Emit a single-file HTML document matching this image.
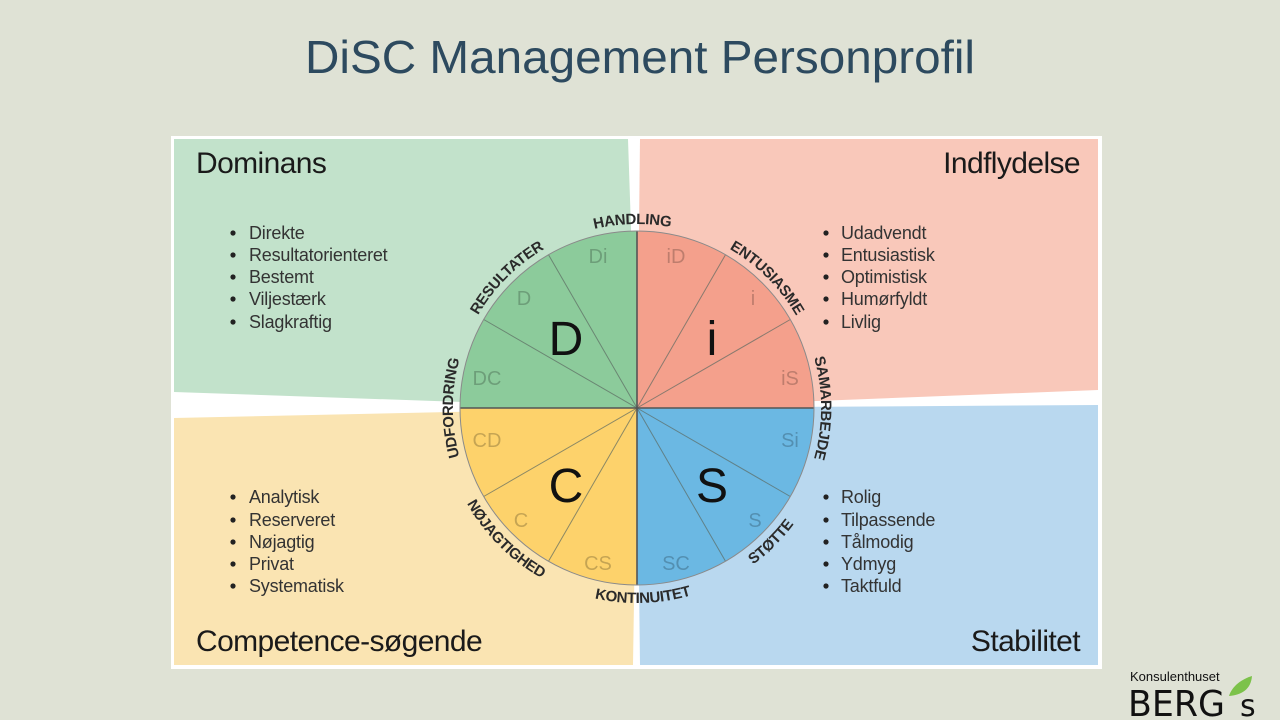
<!DOCTYPE html>
<html><head><meta charset="utf-8"><style>
html,body{margin:0;padding:0;background:#dfe2d5;width:1280px;height:720px;overflow:hidden;font-family:"Liberation Sans",sans-serif}
</style></head><body>
<svg width="1280" height="720" viewBox="0 0 1280 720" xmlns="http://www.w3.org/2000/svg" style="position:absolute;left:0;top:0">
<defs>
<path id="cw" d="M637,592 A184,184 0 1 1 637,224 A184,184 0 1 1 637,592"/>
<path id="ccw" d="M637,213 A195,195 0 1 0 637,603 A195,195 0 1 0 637,213"/>
</defs>
<text x="640" y="73" text-anchor="middle" font-size="46" fill="#2d4a5f" textLength="670" lengthAdjust="spacingAndGlyphs">DiSC Management Personprofil</text>
<rect x="171" y="136" width="931" height="533" fill="#ffffff"/>
<polygon points="174,139 628,139 637,408 174,392" fill="#c2e2cb"/>
<polygon points="640,139 1098,139 1098,390 637,408" fill="#f9c8ba"/>
<polygon points="174,418 637,408 633,665 174,665" fill="#fae4b2"/>
<polygon points="637,408 1098,405 1098,665 640,665" fill="#b9d8ef"/>
<path d="M637,408 L637,231 A177,177 0 0 0 460,408 Z" fill="#8ccb9b"/>
<path d="M637,408 L637,231 A177,177 0 0 1 814,408 Z" fill="#f4a08c"/>
<path d="M637,408 L460,408 A177,177 0 0 0 637,585 Z" fill="#fdd26b"/>
<path d="M637,408 L814,408 A177,177 0 0 1 637,585 Z" fill="#6bb8e3"/>
<g stroke="#5c6a62" stroke-width="1" opacity="0.7">
<line x1="637" y1="408" x2="548.5" y2="254.7"/><line x1="637" y1="408" x2="483.7" y2="319.5"/>
<line x1="637" y1="408" x2="725.5" y2="254.7"/><line x1="637" y1="408" x2="790.3" y2="319.5"/>
<line x1="637" y1="408" x2="548.5" y2="561.3"/><line x1="637" y1="408" x2="483.7" y2="496.5"/>
<line x1="637" y1="408" x2="725.5" y2="561.3"/><line x1="637" y1="408" x2="790.3" y2="496.5"/>
</g>
<g stroke="#555" stroke-width="1.6"><line x1="637" y1="231" x2="637" y2="585"/><line x1="460" y1="408" x2="814" y2="408"/></g>
<circle cx="637" cy="408" r="177" fill="none" stroke="#8a8a8a" stroke-width="1"/>
<g font-size="20" fill="#000" fill-opacity="0.22" text-anchor="middle">
<text x="598" y="263">Di</text><text x="676" y="263">iD</text><text x="753" y="305">i</text><text x="524" y="305">D</text>
<text x="487" y="385">DC</text><text x="790" y="385">iS</text><text x="487" y="447">CD</text><text x="790" y="447">Si</text>
<text x="521" y="527">C</text><text x="755" y="527">S</text><text x="598" y="570">CS</text><text x="676" y="570">SC</text>
</g>
<g font-size="48" fill="#111" text-anchor="middle">
<text x="566" y="355">D</text><text x="712" y="355">i</text><text x="566" y="502">C</text><text x="712" y="502">S</text>
</g>
<g font-size="15" font-weight="bold" fill="#2a2a2a" letter-spacing="-0.3">
<text><textPath href="#cw" startOffset="25%" text-anchor="middle">UDFORDRING</textPath></text>
<text><textPath href="#cw" startOffset="37.5%" text-anchor="middle">RESULTATER</textPath></text>
<text><textPath href="#cw" startOffset="49.6%" text-anchor="middle">HANDLING</textPath></text>
<text><textPath href="#cw" startOffset="62.5%" text-anchor="middle">ENTUSIASME</textPath></text>
<text><textPath href="#cw" startOffset="75%" text-anchor="middle">SAMARBEJDE</textPath></text>
<text><textPath href="#ccw" startOffset="37.5%" text-anchor="middle">NØJAGTIGHED</textPath></text>
<text><textPath href="#ccw" startOffset="50.5%" text-anchor="middle">KONTINUITET</textPath></text>
<text><textPath href="#ccw" startOffset="62.5%" text-anchor="middle">STØTTE</textPath></text>
</g>
<g font-size="30" fill="#1a1a1a" letter-spacing="-0.6">
<text x="196" y="173">Dominans</text>
<text x="1080" y="173" text-anchor="end">Indflydelse</text>
<text x="196" y="651">Competence-søgende</text>
<text x="1080" y="651" text-anchor="end">Stabilitet</text>
</g>
<g font-size="18" fill="#333" letter-spacing="-0.2">
<g transform="translate(249,0)"><text y="239">Direkte</text><text y="261">Resultatorienteret</text><text y="283">Bestemt</text><text y="305">Viljestærk</text><text y="328">Slagkraftig</text></g>
<g transform="translate(841,0)"><text y="239">Udadvendt</text><text y="261">Entusiastisk</text><text y="283">Optimistisk</text><text y="305">Humørfyldt</text><text y="328">Livlig</text></g>
<g transform="translate(249,0)"><text y="503">Analytisk</text><text y="526">Reserveret</text><text y="548">Nøjagtig</text><text y="570">Privat</text><text y="592">Systematisk</text></g>
<g transform="translate(841,0)"><text y="503">Rolig</text><text y="526">Tilpassende</text><text y="548">Tålmodig</text><text y="570">Ydmyg</text><text y="592">Taktfuld</text></g>
</g>
<g fill="#222">
<circle cx="233" cy="233" r="2.6"/><circle cx="233" cy="255" r="2.6"/><circle cx="233" cy="277" r="2.6"/><circle cx="233" cy="299" r="2.6"/><circle cx="233" cy="322" r="2.6"/>
<circle cx="826" cy="233" r="2.6"/><circle cx="826" cy="255" r="2.6"/><circle cx="826" cy="277" r="2.6"/><circle cx="826" cy="299" r="2.6"/><circle cx="826" cy="322" r="2.6"/>
<circle cx="233" cy="497" r="2.6"/><circle cx="233" cy="520" r="2.6"/><circle cx="233" cy="542" r="2.6"/><circle cx="233" cy="564" r="2.6"/><circle cx="233" cy="586" r="2.6"/>
<circle cx="826" cy="497" r="2.6"/><circle cx="826" cy="520" r="2.6"/><circle cx="826" cy="542" r="2.6"/><circle cx="826" cy="564" r="2.6"/><circle cx="826" cy="586" r="2.6"/>
</g>
<text x="1130" y="681" font-size="13" fill="#111">Konsulenthuset</text>
<text x="1128" y="716" font-size="36" fill="#111" font-family="DejaVu Sans, sans-serif" textLength="97" lengthAdjust="spacingAndGlyphs">BERG</text>
<text x="1240" y="716" font-size="30" fill="#111" font-family="DejaVu Sans, sans-serif">s</text>
<path d="M1229,696 C1232,686 1242,679 1252,676 C1251,689 1242,695 1229,696 Z" fill="#7cc24a"/>
</svg>
</body></html>
